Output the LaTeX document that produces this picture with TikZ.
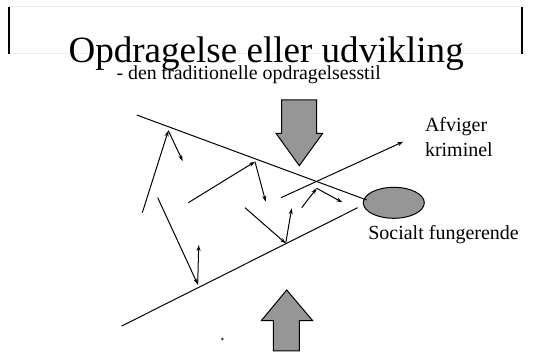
\documentclass[tikz,border=0pt]{standalone}
\usepackage{fontspec}
\setmainfont{Liberation Serif}
\usetikzlibrary{arrows.meta,shapes.geometric}
\definecolor{arrgray}{RGB}{150,150,150}
\definecolor{faint}{RGB}{238,238,238}
\tikzset{
  txt/.style={anchor=base west,inner sep=0pt,outer sep=0pt},
  ln/.style={line width=0.75pt},
  ar/.style={line width=0.75pt,-{Stealth[length=4.5pt,width=3pt]}},
  bigarrow/.style={fill=arrgray,draw=black,line width=0.75pt},
}
\begin{document}
\begin{tikzpicture}[x=0.75pt,y=-0.75pt]
\useasboundingbox (0,0) rectangle (533,352);
% frame
\draw[faint,line width=0.75pt] (9,7) -- (522,7);
\draw[faint,line width=0.75pt] (9,54) -- (522,54);
\draw[line width=1.5pt] (9,7) -- (9,54);
\draw[line width=1.5pt] (522,7) -- (522,54);
% titles
\node[txt,font=\fontsize{27.8}{30}\selectfont] (title) at (68.5,63) {Opdragelse eller udvikling};
\node[txt,font=\fontsize{14.9}{17}\selectfont] (sub) at (116.5,79.3) {- den traditionelle opdragelsesstil};
% ellipse
\node[ellipse,draw=black,fill=arrgray,line width=0.75pt,minimum width=45.75pt,minimum height=23.25pt,inner sep=0pt] (ell) at (393.8,202.8) {};
% labels
\node[txt,font=\fontsize{15}{17}\selectfont] (afv) at (425,131.7) {Afviger};
\node[txt,font=\fontsize{15}{17}\selectfont] (krim) at (425,156.7) {kriminel};
\node[txt,font=\fontsize{15}{17}\selectfont] (soc) at (368.3,239.3) {Socialt fungerende};
% coordinates
\coordinate (u1) at (136.7,115);
\coordinate (u2) at (366.7,200);
\coordinate (l1) at (121.7,326);
\coordinate (l2) at (357.7,207.7);
\coordinate (a1) at (281,197.7);
\coordinate (a2) at (403.3,141.7);
\draw[ln] (u1) -- (u2);
\draw[ln] (l1) -- (l2);
\draw[ar] (a1) -- (a2);
% zigzag arrows
\coordinate (z1) at (142.3,212.7);
\coordinate (z2) at (168.3,130.7);
\coordinate (z3) at (182.7,161);
\coordinate (z4) at (157.7,197.7);
\coordinate (z5) at (197.7,284.3);
\coordinate (z6) at (198.7,245);
\coordinate (z7) at (188.3,202.7);
\coordinate (z8) at (255,161.7);
\coordinate (z9) at (265.7,201.7);
\coordinate (z10) at (245,207.7);
\coordinate (z11) at (285.7,243.3);
\coordinate (z12) at (291.7,208.3);
\coordinate (z13) at (301.7,207.7);
\coordinate (z14) at (316.7,188.3);
\coordinate (z15) at (342.3,202.3);
\draw[ar] (z1) -- (z2);
\draw[ar] (z2) -- (z3);
\draw[ar] (z4) -- (z5);
\draw[ar] (z5) -- (z6);
\draw[ar] (z7) -- (z8);
\draw[ar] (z8) -- (z9);
\draw[ar] (z10) -- (z11);
\draw[ar] (z11) -- (z12);
\draw[ar] (z13) -- (z14);
\draw[ar] (z14) -- (z15);
% big arrows
\draw[bigarrow] (281.7,100) -- (316.7,100) -- (316.7,133.3) -- (322.7,133.3) -- (299.3,165.7) -- (276,133.3) -- (281.7,133.3) -- cycle;
\draw[bigarrow] (273.3,351) -- (299.3,351) -- (299.3,320.7) -- (312.7,320.7) -- (286.7,290) -- (261.3,320.7) -- (273.3,320.7) -- cycle;
% small mark
\fill[black!70] (222.3,339) circle (1.5);
\end{tikzpicture}
\end{document}
